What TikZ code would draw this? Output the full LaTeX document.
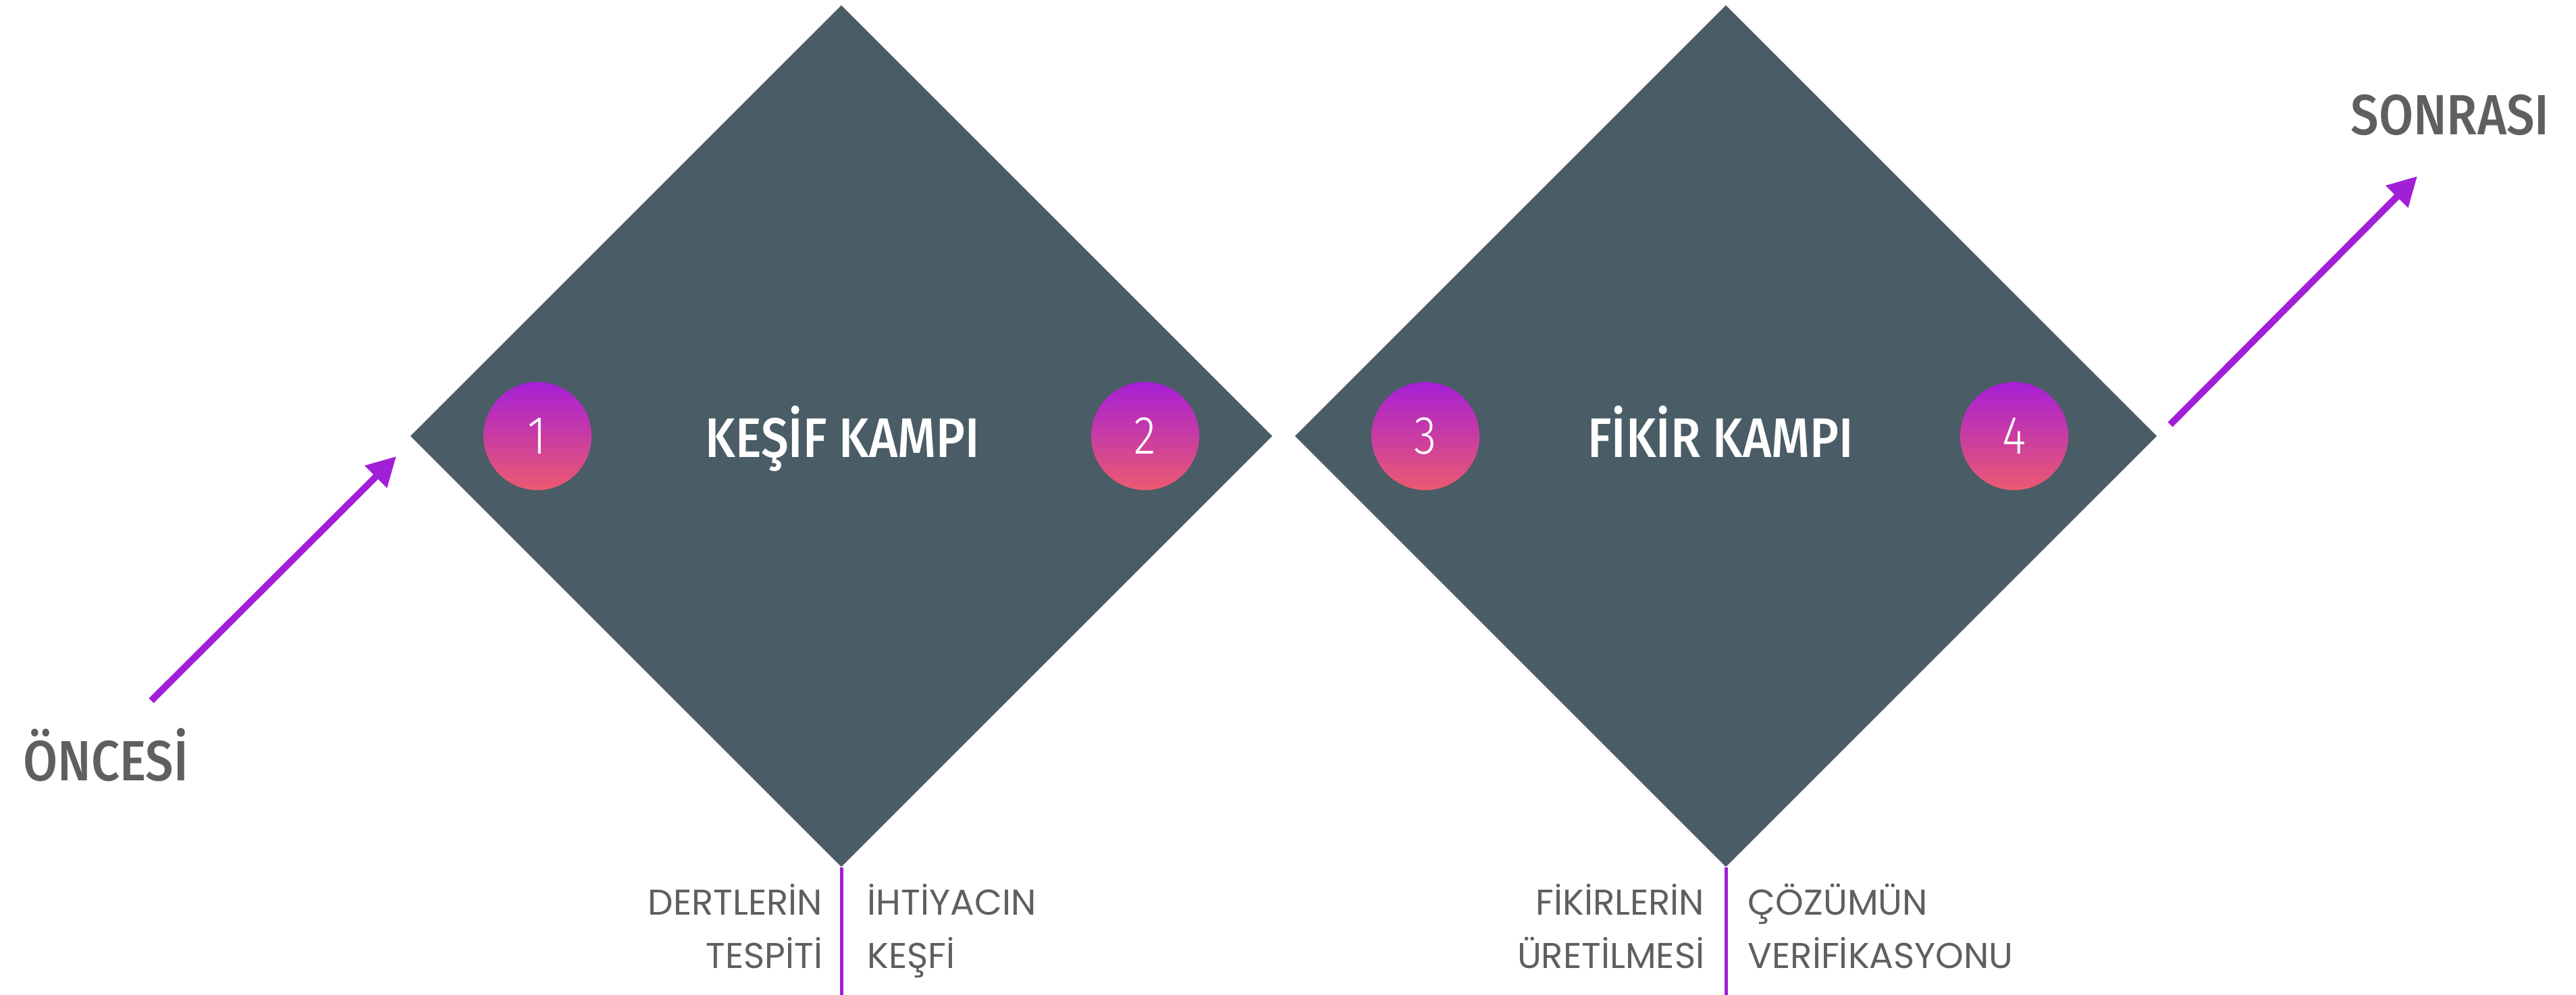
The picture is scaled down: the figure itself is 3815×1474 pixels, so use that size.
\documentclass[tikz,border=0pt]{standalone}
\usepackage{fontspec}
\usetikzlibrary{shapes.geometric,arrows.meta}
\IfFontExistsTF{Fira Sans Medium}{\newfontfamily\headfont[FakeStretch=0.88]{Fira Sans Medium}}{\newfontfamily\headfont[FakeStretch=0.88,FakeBold=1.2]{Fira Sans}}
\IfFontExistsTF{Fira Sans Light}{\newfontfamily\digitfont[FakeStretch=0.85]{Fira Sans Light}}{\newfontfamily\digitfont[FakeStretch=0.85]{Fira Sans}}
\newfontfamily\notefont{Poppins}
\definecolor{slate}{HTML}{4A5C65}
\definecolor{arrowpurple}{HTML}{A21FD8}
\definecolor{badgetop}{HTML}{A61FD6}
\definecolor{badgebottom}{HTML}{EC5A70}
\definecolor{inkgray}{HTML}{5F5F5F}
\begin{document}
\begin{tikzpicture}[x=0.01cm,y=-0.01cm,
	camp/.style={diamond,fill=slate,minimum width=12.76cm,minimum height=12.76cm,inner sep=0pt},
	badge/.style={circle,top color=badgetop,bottom color=badgebottom,minimum size=1.6cm,inner sep=0pt,text=white,font=\digitfont\fontsize{22.7}{24}\selectfont},
	title/.style={anchor=base,inner sep=0pt,text=white,font=\headfont\fontsize{23.5}{26}\selectfont},
	phase/.style={inner sep=0pt,text=inkgray,font=\headfont\fontsize{23.9}{26}\selectfont},
	note/.style={inner sep=0pt,text=inkgray,font=\notefont\fontsize{15.1}{18}\selectfont},
	flow/.style={line width=0.1cm,draw=arrowpurple,-{Triangle[length=0.43cm,width=0.44cm]}},
	stem/.style={line width=0.05cm,draw=arrowpurple}]
	\useasboundingbox (0,0) rectangle (3815,1474);
	% the two camps
	\node[camp] (kesif) at (1246,646) {};
	\node[camp] (fikir) at (2556,646) {};
	\node[title] (kesif title) at (1248,678) {KEŞİF KAMPI};
	\node[title] (fikir title) at (2548,678) {FİKİR KAMPI};
	\foreach \n/\x in {1/796,2/1696,3/2111,4/2983}
		\node[badge] (badge\n) at (\x,646) {\n};
	% before / after
	\node[phase,anchor=base west] (oncesi) at (34,1156) {ÖNCESİ};
	\node[phase,anchor=base east] (sonrasi) at (3776,200) {SONRASI};
	\coordinate (oncesi start) at (224,1038);
	\coordinate (oncesi tip) at (587,676);
	\coordinate (sonrasi start) at (3214,629);
	\coordinate (sonrasi tip) at (3580,261);
	\draw[flow] (oncesi start) -- (oncesi tip);
	\draw[flow] (sonrasi start) -- (sonrasi tip);
	% stems and notes
	\coordinate (kesif foot) at (1246,1474);
	\coordinate (fikir foot) at (2556,1474);
	\draw[stem] (kesif.south) -- (kesif foot);
	\draw[stem] (fikir.south) -- (fikir foot);
	\node[note,anchor=base east] (dertler) at (1219,1355) {DERTLERİN};
	\node[note,anchor=base east] (tespit) at (1219,1434) {TESPİTİ};
	\node[note,anchor=base west] (ihtiyac) at (1284,1355) {İHTİYACIN};
	\node[note,anchor=base west] (kesfi) at (1284,1434) {KEŞFİ};
	\node[note,anchor=base east] (fikirler) at (2525,1355) {FİKİRLERİN};
	\node[note,anchor=base east] (uretim) at (2525,1434) {ÜRETİLMESİ};
	\node[note,anchor=base west] (cozum) at (2588,1355) {ÇÖZÜMÜN};
	\node[note,anchor=base west] (verifik) at (2588,1434) {VERİFİKASYONU};
\end{tikzpicture}
\end{document}
